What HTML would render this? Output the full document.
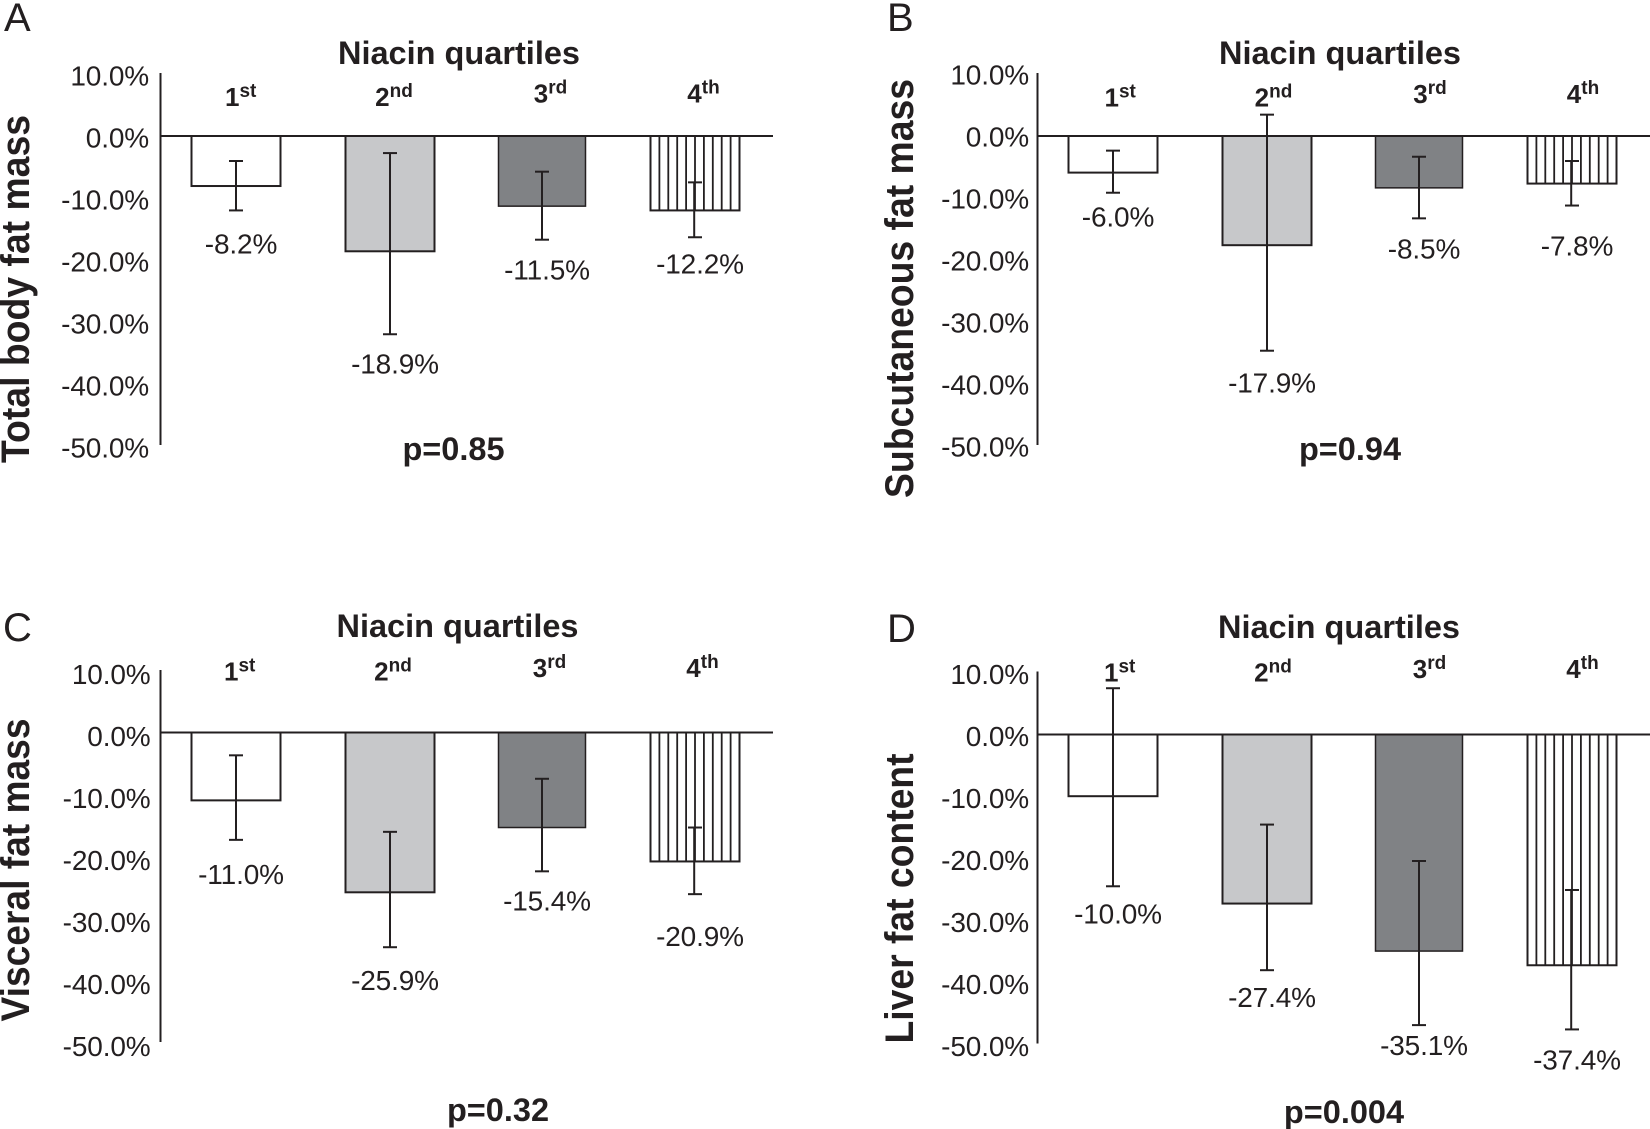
<!DOCTYPE html>
<html lang="en">
<head>
<meta charset="utf-8">
<title>Niacin quartiles and fat change</title>
<style>
html,body{margin:0;padding:0;background:#fff;width:1650px;height:1129px;overflow:hidden}
svg{display:block}
text{font-family:"Liberation Sans",sans-serif;fill:#231f20}
.tick,.value{font-size:28px;letter-spacing:-.15px}
.tick{text-anchor:end}
.value{text-anchor:middle}
.head{font-size:32.500px;font-weight:700;text-anchor:middle}
.q{font-size:26px;font-weight:700;text-anchor:middle}
.q tspan{font-size:19px}
.ytitle{font-size:40px;font-weight:700}
.letter{font-size:40px}
</style>
</head>
<body>
<svg id="figure" width="1650" height="1129" viewBox="0 0 1650 1129" xmlns="http://www.w3.org/2000/svg">
  <text class="letter" x="4" y="31">A</text>
  <text class="letter" x="887" y="31">B</text>
  <text class="letter" x="3" y="641">C</text>
  <text class="letter" x="887" y="642">D</text>

  <text class="head" x="459" y="64">Niacin quartiles</text>
  <text class="head" x="1340" y="64">Niacin quartiles</text>
  <text class="head" x="457.500" y="637">Niacin quartiles</text>
  <text class="head" x="1339" y="638">Niacin quartiles</text>

  <text class="ytitle" transform="translate(29 463) rotate(-90)" textLength="348" lengthAdjust="spacingAndGlyphs">Total body fat mass</text>
  <text class="ytitle" transform="translate(913 498) rotate(-90)" textLength="419" lengthAdjust="spacingAndGlyphs">Subcutaneous fat mass</text>
  <text class="ytitle" transform="translate(29 1021.500) rotate(-90)" textLength="303" lengthAdjust="spacingAndGlyphs">Visceral fat mass</text>
  <text class="ytitle" transform="translate(913 1043.500) rotate(-90)" textLength="290" lengthAdjust="spacingAndGlyphs">Liver fat content</text>

  <text class="head" x="453.500" y="460">p=0.85</text>
  <text class="head" x="1350" y="460">p=0.94</text>
  <text class="head" x="498" y="1121">p=0.32</text>
  <text class="head" x="1344" y="1123">p=0.004</text>
</svg>
<script>
// ---- Data ----
const quartileNumbers = ['1', '2', '3', '4'];
const quartileSuffixes = ['st', 'nd', 'rd', 'th'];
const tickValues = [10, 0, -10, -20, -30, -40, -50];

const meansA = [-8.2, -18.9, -11.5, -12.2];
const errHighA = [-4.1, -2.8, -5.85, -7.6];
const errLowA = [-12.2, -32.5, -17, -16.6];

const meansB = [-6.0, -17.9, -8.5, -7.8];
const errHighB = [-2.4, 3.5, -3.4, -4.1];
const errLowB = [-9.3, -35.2, -13.5, -11.4];

const meansC = [-11.0, -25.9, -15.4, -20.9];
const errHighC = [-3.7, -16.1, -7.5, -15.4];
const errLowC = [-17.4, -34.8, -22.5, -26.2];

const meansD = [-10.0, -27.4, -35.1, -37.4];
const errHighD = [7.5, -14.6, -20.5, -25.2];
const errLowD = [-24.6, -38.2, -47.1, -47.8];

// ---- Layout (separate from the data) ----
const NS = 'http://www.w3.org/2000/svg';
const svg = document.getElementById('figure');
const CATEGORY_STEP = 153;
const STRIPE_STEP = 8.9;
const LABEL_GAP = 30;
const INK = '#231f20';
const barFills = ['#ffffff', '#c7c8ca', '#808285', '#ffffff'];
const barWidthsPx = [89, 89, 87, 89];
const barDx = [0, 1, 0, 0];
const stemDx = [0, 0, 0, -0.8];
const qLabelDx = [4.700, 4, 8.500, 8.500];
const qLabelDy = [0, 0, -3.500, -3.500];

const panels = [
  {id: 'a', means: meansA, hi: errHighA, lo: errLowA, left: 160.5, firstX: 236, zero: 136, unit: 6.1, top: 73, bottom: 445,
   lineEnd: 773, tickRight: 149, tickZero: 147.500, tickUnit: 6.2, qBase: 106, qDx: 0, nudge: [3, -1, 0, -4]},
  {id: 'b', means: meansB, hi: errHighB, lo: errLowB, left: 1037.5, firstX: 1113, zero: 136, unit: 6.1, top: 73, bottom: 445,
   lineEnd: 1650, tickRight: 1029, tickZero: 146.500, tickUnit: 6.2, qBase: 106.500, qDx: 2.5, nudge: [-6, 2, 0, 10]},
  {id: 'c', means: meansC, hi: errHighC, lo: errLowC, left: 160.5, firstX: 236, zero: 732.500, unit: 6.17, top: 670, bottom: 1042,
   lineEnd: 773, tickRight: 150.500, tickZero: 746, tickUnit: 6.2, qBase: 680.500, qDx: -1, nudge: [4, 3, -1, 12]},
  {id: 'd', means: meansD, hi: errHighD, lo: errLowD, left: 1037.5, firstX: 1113, zero: 734.500, unit: 6.17, top: 671.500, bottom: 1043.500,
   lineEnd: 1650, tickRight: 1029, tickZero: 746, tickUnit: 6.2, qBase: 681.500, qDx: 2, nudge: [-3, -3, -10, 0]}
];

function make(tag, attrs, parent) {
  const el = document.createElementNS(NS, tag);
  for (const k in attrs) el.setAttribute(k, attrs[k]);
  parent.appendChild(el);
  return el;
}

function drawPanel(p) {
  const yBar = v => p.zero - v * p.unit;
  const yTick = v => p.tickZero - v * p.tickUnit;
  const xCat = i => p.firstX + i * CATEGORY_STEP + barDx[i];

  const g = make('g', {}, svg);
  
  

  tickValues.forEach(v => {
    const t = make('text', {class: 'tick', x: p.tickRight, y: yTick(v)}, g);
    
    
    t.textContent = v.toFixed(1) + '%';
  });

  p.means.forEach((m, i) => {
    const cx = xCat(i), w = barWidthsPx[i];
    const bar = make('rect', {x: cx - w / 2, y: p.zero, width: w, height: yBar(m) - p.zero,
      fill: barFills[i], stroke: INK, 'stroke-width': i === 2 ? 1.5 : 2}, g);
    
    

    if (i === 3) {
      for (let sx = cx - w / 2 + STRIPE_STEP; sx < cx + w / 2 - 2; sx += STRIPE_STEP) {
        const s = make('line', {x1: sx, x2: sx, y1: p.zero, y2: yBar(m), stroke: INK, 'stroke-width': 1.8}, g);
        
        
      }
    }

    const q = make('text', {class: 'q', x: cx + qLabelDx[i] + p.qDx, y: p.qBase + qLabelDy[i]}, g);
    
    
    q.appendChild(document.createTextNode(quartileNumbers[i]));
    const sup = make('tspan', {dy: -9}, q);
    sup.textContent = quartileSuffixes[i];
  });

  const yAxis = make('line', {x1: p.left, x2: p.left, y1: p.top, y2: p.bottom, stroke: INK, 'stroke-width': 2}, g);
  
  

  const zeroLine = make('line', {x1: p.left, x2: p.lineEnd, y1: p.zero, y2: p.zero, stroke: INK, 'stroke-width': 2}, g);
  
  

  p.means.forEach((m, i) => {
    const cx = xCat(i), sx = cx + stemDx[i], yh = yBar(p.hi[i]), yl = yBar(p.lo[i]);
    const stem = make('line', {x1: sx, x2: sx, y1: yh, y2: yl, stroke: INK, 'stroke-width': 2}, g);
    
    

    const capTop = make('line', {x1: cx - 7, x2: cx + 7, y1: yh, y2: yh, stroke: INK, 'stroke-width': 2}, g);
    
    

    const capBottom = make('line', {x1: cx - 7, x2: cx + 7, y1: yl, y2: yl, stroke: INK, 'stroke-width': 2}, g);
    
    

    const val = make('text', {class: 'value', x: cx + 5, y: yl + LABEL_GAP + p.nudge[i] + 10}, g);
    
    
    val.textContent = m.toFixed(1) + '%';
  });
}

panels.forEach(drawPanel);
</script>
</body>
</html>
